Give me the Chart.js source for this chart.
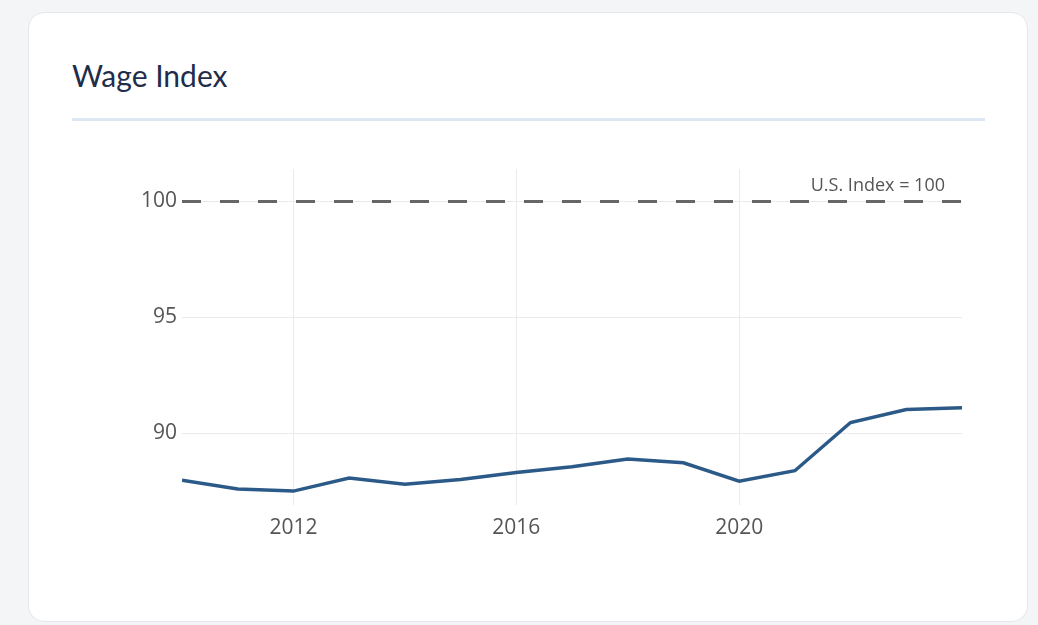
<!DOCTYPE html>
<html>
<head>
<meta charset="utf-8">
<script src="https://cdn.jsdelivr.net/npm/chart.js@4"></script>
<style>
  html, body { margin: 0; padding: 0; background: #f4f5f7; }
  body { width: 1038px; height: 625px; position: relative; overflow: hidden; }
  .card {
    position: absolute; left: 28px; top: 12px; width: 998px; height: 608px;
    background: #fff; border: 1px solid #e6e7ea; border-radius: 16px;
  }
  .title {
    position: absolute; left: 72px; top: 57px; margin: 0;
    font-family: "Lato", sans-serif; font-weight: 400; font-size: 30px;
    color: #1f2d4b;
  }
  .rule {
    position: absolute; left: 72px; top: 118px; width: 913px; height: 3px;
    background: #dce7f3;
  }
  #wageChart { position: absolute; left: 0; top: 0; }
</style>
</head>
<body>
<div class="card"></div>
<h2 class="title">Wage Index</h2>
<div class="rule"></div>
<canvas id="wageChart" width="1038" height="625"></canvas>
<script>
const years = [2010, 2011, 2012, 2013, 2014, 2015, 2016, 2017, 2018, 2019, 2020, 2021, 2022, 2023, 2024];
const wageIndex = [87.97, 87.59, 87.5, 88.06, 87.8, 88.0, 88.3, 88.55, 88.88, 88.72, 87.93, 88.38, 90.46, 91.02, 91.1];
const usIndex = [100, 100, 100, 100, 100, 100, 100, 100, 100, 100, 100, 100, 100, 100, 100];
const xTicks = [2012, 2016, 2020];
const yTicks = [90, 95, 100];
const refLabel = "U.S. Index = 100";

Chart.defaults.font.family = "'Open Sans', sans-serif";

// text label over the dashed reference line
const refLabelPlugin = {
  id: "refLabel",
  afterDatasetsDraw(chart) {
    const ctx = chart.ctx;
    const x = chart.scales.x.getPixelForValue(years[years.length - 1]);
    const y = chart.scales.y.getPixelForValue(100);
    ctx.save();
    ctx.font = "18px 'Open Sans'";
    ctx.fillStyle = "#555";
    ctx.textAlign = "right";
    ctx.textBaseline = "middle";
    ctx.fillText(refLabel, x - 17, y - 16);
    ctx.restore();
  }
};

var ctx = document.getElementById("wageChart").getContext("2d");
var wageChart = new Chart(ctx, {
  type: "line",
  data: {
    datasets: [
      {
        label: "Wage Index",
        data: years.map((yr, i) => ({ x: yr, y: wageIndex[i] })),
        borderColor: "#2c5a88",
        borderWidth: 3.5,
        pointRadius: 0,
        tension: 0,
      },
      {
        label: refLabel,
        data: years.map((yr, i) => ({ x: yr, y: usIndex[i] })),
        borderColor: "#666",
        borderWidth: 3,
        borderDash: [19, 19],
        pointRadius: 0,
      },
    ],
  },
  options: {
    responsive: false,
    animation: false,
    layout: { padding: { left: 100, right: 76, top: 169, bottom: 80 } },
    plugins: {
      legend: { display: false },
      tooltip: { enabled: false },
    },
    scales: {
      x: {
        type: "linear",
        min: 2010,
        max: 2024,
        afterBuildTicks: (scale) => { scale.ticks = xTicks.map(v => ({ value: v })); },
        afterFit: (scale) => { scale.height = 40; },
        grid: { color: "#ebebeb", lineWidth: 1, drawTicks: false },
        border: { display: false },
        ticks: {
          color: "#555",
          font: { size: 21 },
          padding: 10,
          callback: (v) => String(v),
        },
      },
      y: {
        min: 86.9,
        max: 101.4,
        afterBuildTicks: (scale) => { scale.ticks = yTicks.map(v => ({ value: v })); },
        afterFit: (scale) => { scale.width = 82; },
        grid: { color: "#ebebeb", lineWidth: 1, drawTicks: false },
        border: { display: false },
        ticks: {
          color: "#555",
          font: { size: 21 },
          padding: 5,
        },
      },
    },
  },
  plugins: [refLabelPlugin],
});
</script>
</body>
</html>
